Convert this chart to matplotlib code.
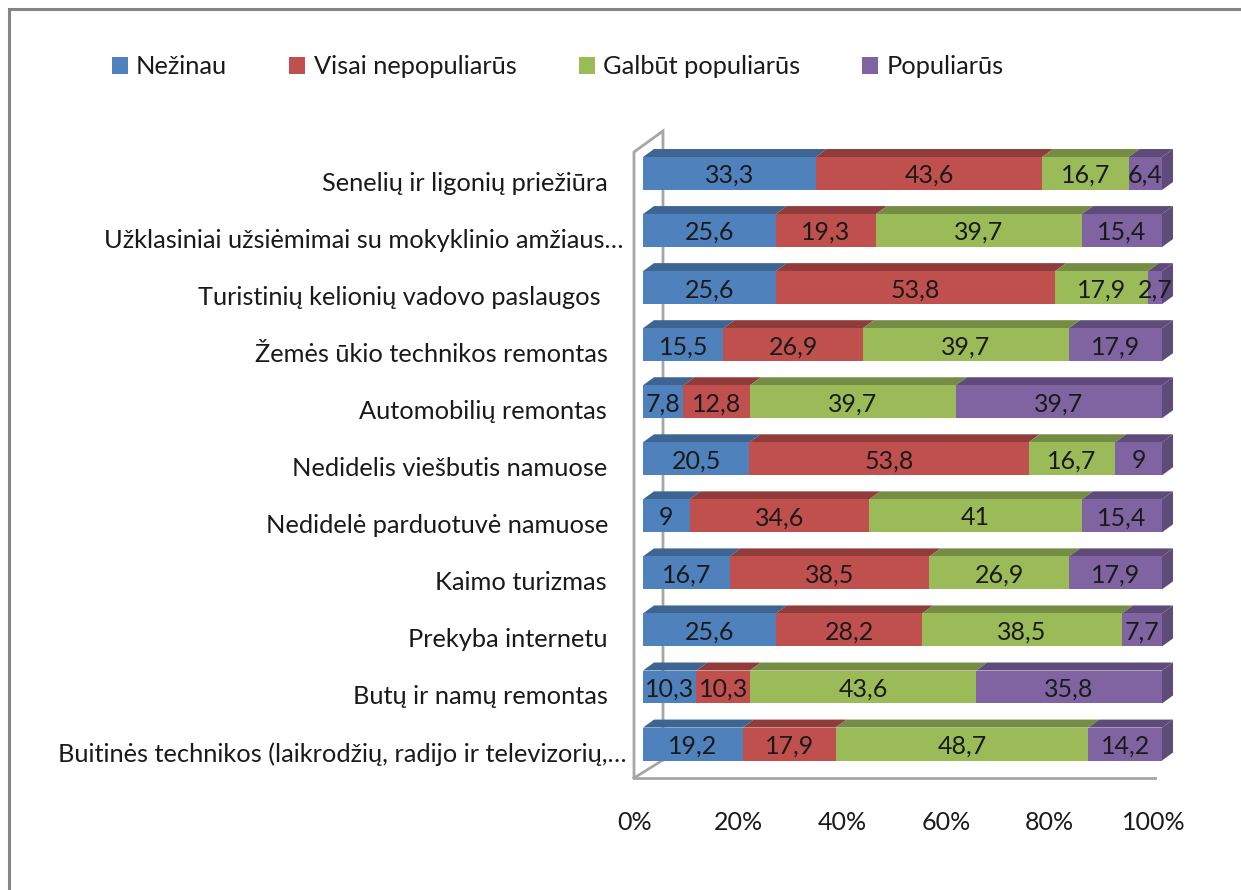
import matplotlib
matplotlib.use("Agg")
import matplotlib.pyplot as plt
from matplotlib.patches import Patch, Rectangle
from matplotlib.transforms import ScaledTranslation

plt.rcParams['font.family'] = ['Lato', 'DejaVu Sans']

categories = [
    "Senelių ir ligonių priežiūra",
    "Užklasiniai užsiėmimai su mokyklinio amžiaus…",
    "Turistinių kelionių vadovo paslaugos",
    "Žemės ūkio technikos remontas",
    "Automobilių remontas",
    "Nedidelis viešbutis namuose",
    "Nedidelė parduotuvė namuose",
    "Kaimo turizmas",
    "Prekyba internetu",
    "Butų ir namų remontas",
    "Buitinės technikos (laikrodžių, radijo ir televizorių,…",
]
nezinau = [33.3, 25.6, 25.6, 15.5, 7.8, 20.5, 9, 16.7, 25.6, 10.3, 19.2]
visai = [43.6, 19.3, 53.8, 26.9, 12.8, 53.8, 34.6, 38.5, 28.2, 10.3, 17.9]
galbut = [16.7, 39.7, 17.9, 39.7, 39.7, 16.7, 41, 26.9, 38.5, 43.6, 48.7]
populiarus = [6.4, 15.4, 2.7, 17.9, 39.7, 9, 15.4, 17.9, 7.7, 35.8, 14.2]
series_names = ["Nežinau", "Visai nepopuliarūs", "Galbūt populiarūs", "Populiarūs"]
xticks = [0, 20, 40, 60, 80, 100]

colors = ["#4F81BD", "#C0504D", "#9BBB59", "#8064A2"]
dark = ["#3E6591", "#8F3C3A", "#748C43", "#5F4B79"]
grey = "#A6A6A6"
text_color = "#1A1A1A"

W, H = 1241, 890
fig = plt.figure(figsize=(W / 100, H / 100), dpi=100)
# axes run from 0% to 100% of the front face of the bars, in pixels
ax = fig.add_axes([643 / W, 1 - 778 / H, (1162 - 643) / W, (778 - 152) / H])
ax.set_xlim(0, 100)
ax.set_ylim(10.595, -0.377)
for s in ax.spines.values():
    s.set_visible(False)

# 3d depth of the bars and walls, px converted to data units
px_x = 100 / (1162 - 643)
px_y = 1 / 57.1
dx = 11 * px_x
dy = 8 * px_y
bar_h = 33 * px_y

# walls behind the bars
wall_x = -9 * px_x
back_x = 20 * px_x
top_y = -0.377
floor_y = 10.595
ax.plot([wall_x, wall_x, back_x, back_x], [floor_y, top_y, top_y - 21 * px_y, floor_y - 18 * px_y],
        color=grey, lw=2, clip_on=False, zorder=1, solid_joinstyle='miter')
ax.plot([wall_x, 98.6], [floor_y, floor_y], color=grey, lw=2, clip_on=False, zorder=1)
ax.plot([wall_x, back_x], [floor_y, floor_y - 18 * px_y], color=grey, lw=2, clip_on=False, zorder=1)

# stacked bars
ypos = list(range(len(categories)))
left = [0] * len(categories)
for name, vals, c, d in zip(series_names, [nezinau, visai, galbut, populiarus], colors, dark):
    ax.barh(ypos, vals, left=left, height=bar_h, color=c, clip_on=False, zorder=3)
    for y, v, l in zip(ypos, vals, left):
        top = y - bar_h / 2
        ax.fill([l, l + dx, l + v + dx, l + v], [top, top - dy, top - dy, top],
                color=d, lw=0, clip_on=False, zorder=2)
        ax.text(l + v / 2, y + 2 * px_y, f"{v:g}".replace(".", ","), ha='center', va='center',
                fontsize=18, color=text_color, zorder=5, clip_on=False)
    left = [l + v for l, v in zip(left, vals)]

# right end of the last series
for y in ypos:
    top = y - bar_h / 2
    ax.fill([100, 100 + dx, 100 + dx, 100], [top, top - dy, top + bar_h - dy, top + bar_h],
            color=dark[3], lw=0, clip_on=False, zorder=2)

ax.set_xticks(xticks)
ax.set_xticklabels([f"{t}%" for t in xticks], fontsize=18, color=text_color)
ax.set_yticks(ypos)
ax.set_yticklabels(categories, fontsize=18.3, color=text_color)
ax.tick_params(length=0)
ax.tick_params(axis='x', pad=24)
ax.tick_params(axis='y', pad=0)

shift_x = ScaledTranslation(-8.5 / 100, 0, fig.dpi_scale_trans)
for lab in ax.get_xticklabels():
    lab.set_transform(lab.get_transform() + shift_x)
# long labels reach the wall, the others stop a bit before it
ends = [608, 623, 601, 608, 607, 607, 608, 607, 607, 608, 627]
for lab, end in zip(ax.get_yticklabels(), ends):
    lab.set_transform(lab.get_transform() + ScaledTranslation((end - 643) / 100, -8 / 100, fig.dpi_scale_trans))

handles = [Patch(facecolor=c, label=n) for c, n in zip(colors, series_names)]
fig.legend(handles=handles, ncol=4, loc='center left', bbox_to_anchor=(89 / W, 1 - 67 / H),
           frameon=False, fontsize=18.3, labelcolor=text_color, columnspacing=2.45,
           handlelength=0.63, handleheight=0.63, handletextpad=0.32, borderpad=0.4)

# chart frame, cut off by the image on the right and at the bottom
fig.add_artist(Rectangle((8.5 / W, -0.05), 1.1, 1.05 - 9 / H, transform=fig.transFigure,
                         fill=False, edgecolor="#858585", lw=2.2))

fig.savefig("out.png", dpi=100)
